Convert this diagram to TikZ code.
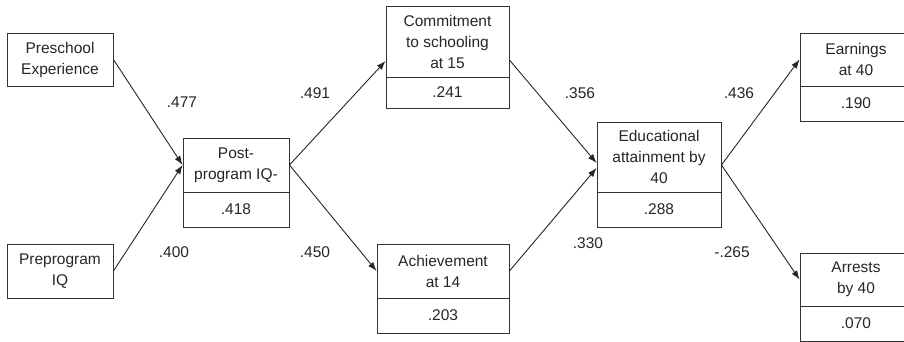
\documentclass[tikz,border=0pt]{standalone}
\usepackage{fontspec}
\setmainfont{Liberation Sans}
\usetikzlibrary{arrows.meta}
\begin{document}
\begin{tikzpicture}[x=1pt,y=-1pt,
  box/.style={draw=black!80,line width=0.9pt,align=center,inner sep=0pt,font=\fontsize{15.5}{21}\selectfont,text=black!85},
  lab/.style={font=\fontsize{15.5}{19}\selectfont,inner sep=0pt,text=black!85},
  arr/.style={draw=black!85,line width=0.9pt,-{Latex[length=9pt,width=6.5pt]}}]
\useasboundingbox (0,0) rectangle (904,342);
\clip (0,0) rectangle (904,342);
% single boxes
\node[box,minimum width=106pt,minimum height=53pt] (pre) at (60,59.5) {Preschool\\Experience};
\node[box,minimum width=106pt,minimum height=54pt] (iq) at (60,271) {Preprogram\\IQ};
% post-program IQ
\node[box,minimum width=106pt,minimum height=54pt] (postT) at (236,165) {Post-\\program IQ-};
\node[box,minimum width=106pt,minimum height=35pt] (postB) at (236,209.5) {.418};
% commitment
\node[box,minimum width=123pt,minimum height=71pt] (comT) at (447.5,41.5) {Commitment\\to schooling\\at 15};
\node[box,minimum width=123pt,minimum height=31pt] (comB) at (447.5,92.5) {.241};
% achievement
\node[box,minimum width=132pt,minimum height=54pt] (achT) at (443,271) {Achievement\\at 14};
\node[box,minimum width=132pt,minimum height=35pt] (achB) at (443,315.5) {.203};
% educational attainment
\node[box,minimum width=124pt,minimum height=70pt] (eduT) at (659,157) {Educational\\attainment by\\40};
\node[box,minimum width=124pt,minimum height=35pt] (eduB) at (659,209.5) {.288};
% earnings
\node[box,minimum width=112pt,minimum height=53pt] (earnT) at (856,59.5) {Earnings\\at 40};
\node[box,minimum width=112pt,minimum height=35pt] (earnB) at (856,103.5) {.190};
% arrests
\node[box,minimum width=112pt,minimum height=53pt] (arrT) at (856,279.5) {Arrests\\by 40};
\node[box,minimum width=112pt,minimum height=35pt] (arrB) at (856,323.5) {.070};
% arrows
\draw[arr] (pre.east) -- (postT.west);
\draw[arr] (iq.east) -- (postT.west);
\draw[arr] (postT.east) -- ([yshift=-19.5pt]comT.west);
\draw[arr] (postT.east) -- (achT.west);
\draw[arr] ([yshift=-18.5pt]comT.east) -- ([yshift=-6pt]eduT.west);
\draw[arr] (achT.east) -- ([yshift=-11pt]eduT.west);
\draw[arr] ([yshift=-8pt]eduT.east) -- (earnT.west);
\draw[arr] ([yshift=-8pt]eduT.east) -- (arrT.west);
% labels
\node[lab] (l1) at (182,102) {.477};
\node[lab] (l2) at (174,252) {.400};
\node[lab] (l3) at (315,93) {.491};
\node[lab] (l4) at (315,252) {.450};
\node[lab] (l5) at (580,93) {.356};
\node[lab] (l6) at (588,243) {.330};
\node[lab] (l7) at (739,93) {.436};
\node[lab] (l8) at (732,252) {-.265};
\end{tikzpicture}
\end{document}
